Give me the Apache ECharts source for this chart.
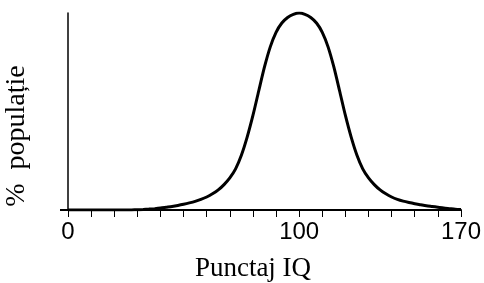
<!DOCTYPE html>
<html>
<head>
<meta charset="utf-8">
<script src="https://cdn.jsdelivr.net/npm/echarts@6/dist/echarts.min.js"></script>
<style>
  html, body { margin: 0; padding: 0; background: #fff; }
  #chart { width: 484px; height: 283px; }
</style>
</head>
<body>
<div id="chart"></div>
<script>
// scor IQ (axa x)
const iqScores = [0, 5, 10, 15, 20, 22.5, 25, 27.5, 30, 32.5, 35, 37.5, 40, 42.5, 45, 47.5,
  50, 52.5, 55, 57.5, 60, 62.5, 65, 67.5, 70, 72.5, 75, 77.5, 80, 82.5, 85, 87.5,
  90, 92.5, 95, 97.5, 100, 102.5, 105, 107.5, 110, 112.5, 115, 117.5, 120, 122.5,
  125, 127.5, 130, 132.5, 135, 137.5, 140, 142.5, 145, 147.5, 150, 152.5, 155,
  157.5, 160, 162.5, 165, 167.5, 170]

// % populatie, relativ la varf (0-100)
const populationPct = [0, 0, 0, 0, 0, 0, 0, 0.05, 0.12, 0.25, 0.45, 0.7, 1.0, 1.4, 1.8, 2.3,
  2.9, 3.6, 4.4, 5.4, 6.6, 8.2, 10.2, 12.9, 16.3, 20.9, 27.8, 37.0, 48.0, 60.4, 72.6, 82.8,
  90.2, 94.9, 97.7, 99.3, 100, 99.3, 97.7, 94.9, 90.2, 82.8, 72.6, 60.4, 48.0, 37.0,
  27.8, 20.9, 16.3, 12.9, 10.2, 8.2, 6.6, 5.4, 4.5, 3.8, 3.2, 2.7, 2.2,
  1.8, 1.4, 1.0, 0.7, 0.4, 0.2]

// etichete afisate pe axa x
const shownTicks = [0, 100, 170]

const xTitle = 'Punctaj IQ'
const yTitle = '%  populație'

const chart = echarts.init(document.getElementById('chart'))

const option = {
  animation: false,
  grid: { left: 68, right: 23, top: 13, bottom: 73 },
  xAxis: {
    type: 'value',
    min: 0,
    max: 170,
    interval: 10,
    splitLine: { show: false },
    axisLine: { lineStyle: { color: '#000', width: 2 } },
    axisTick: { length: 7, lineStyle: { color: '#000', width: 1 } },
    axisLabel: {
      margin: 10,
      color: '#000',
      fontSize: 24,
      fontFamily: 'Liberation Sans, Arial, sans-serif',
      showMinLabel: true,
      showMaxLabel: true,
      formatter: (v) => shownTicks.includes(v) ? String(v) : ''
    }
  },
  yAxis: {
    type: 'value',
    min: 0,
    max: 100,
    splitLine: { show: false },
    axisLine: { show: true, lineStyle: { color: '#000', width: 1.5 } },
    axisTick: { show: false },
    axisLabel: { show: false }
  },
  series: [{
    type: 'line',
    data: iqScores.map((x, i) => [x, populationPct[i]]),
    smooth: 0.25,
    showSymbol: false,
    lineStyle: { color: '#000', width: 3 }
  }]
}

chart.setOption(option)

// extensia axei x la stanga axei y + titlurile axelor
const origin = chart.convertToPixel({ gridIndex: 0 }, [0, 0])
chart.setOption({
  graphic: [
    {
      type: 'line',
      shape: { x1: origin[0] - 8, y1: origin[1], x2: origin[0], y2: origin[1] },
      style: { stroke: '#000', lineWidth: 2 }
    },
    {
      type: 'text',
      x: 253,
      y: 269,
      style: {
        text: xTitle,
        fill: '#000',
        font: '27px "Liberation Serif", "Times New Roman", serif',
        textAlign: 'center',
        textVerticalAlign: 'middle'
      }
    },
    {
      type: 'text',
      x: 17,
      y: 136,
      rotation: Math.PI / 2,
      style: {
        text: yTitle,
        fill: '#000',
        font: '28px "Liberation Serif", "Times New Roman", serif',
        textAlign: 'center',
        textVerticalAlign: 'middle'
      }
    }
  ]
})
</script>
</body>
</html>
